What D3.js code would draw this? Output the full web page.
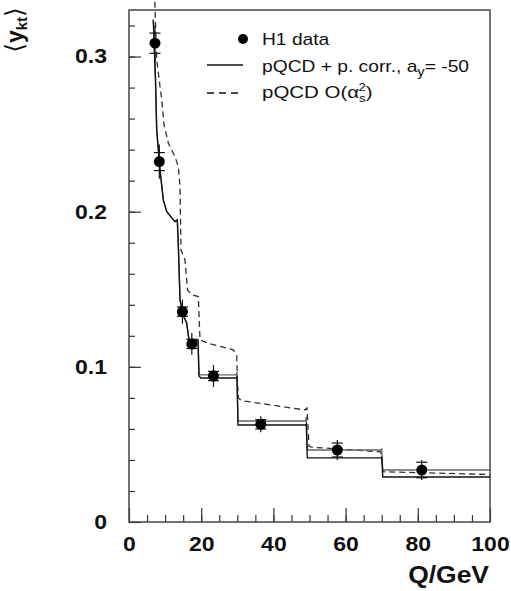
<!DOCTYPE html>
<html>
<head>
<meta charset="utf-8">
<script src="https://cdn.jsdelivr.net/npm/d3@7"></script>
<style>
body { margin: 0; background: #fff; }
text { font-family: "Liberation Sans", Arial, sans-serif; fill: #111; }
</style>
</head>
<body>
<div class="chart-container"></div>
<script>
// H1 data, mean y_kt per Q bin
const dataQ = [7.2, 8.4, 14.8, 17.4, 23.4, 36.5, 57.7, 81.1]
const dataY = [0.3086, 0.2323, 0.1356, 0.1148, 0.0941, 0.0630, 0.0464, 0.0335]
const errTot = [0.0116, 0.0110, 0.0077, 0.0070, 0.0070, 0.0052, 0.0065, 0.0065]
const errStat = [0.0065, 0.0058, 0.0030, 0.0030, 0.0030, 0.0030, 0.0045, 0.0050]

// pQCD + power corrections, lower and upper edge of the band
const corrQ = [6.73, 7.34, 7.67, 8.59, 9.50, 10.44, 11.83, 12.74, 13.38, 13.71, 14.13, 14.96, 15.98, 16.62, 17.17, 19.11,
  19.39, 19.9, 29.64, 29.9, 30.2, 48.9, 49.1, 49.4, 69.8, 70.0, 70.3, 100]
const corrLo = [0.3237, 0.2850, 0.2527, 0.2270, 0.2076, 0.2001, 0.1960, 0.1936, 0.1947, 0.1754, 0.1431, 0.1335, 0.1283, 0.1173, 0.1167, 0.1173,
  0.0941, 0.0928, 0.0928, 0.0935, 0.0625, 0.0625, 0.0632, 0.0413, 0.0413, 0.0418, 0.0290, 0.0290]
const corrHi = [0.3237, 0.2850, 0.2527, 0.2270, 0.2076, 0.2001, 0.1960, 0.1936, 0.1947, 0.1754, 0.1431, 0.1335, 0.1283, 0.1173, 0.1167, 0.1173,
  0.0955, 0.0948, 0.0948, 0.0965, 0.0651, 0.0651, 0.0680, 0.0464, 0.0464, 0.0470, 0.0335, 0.0335]

// pQCD O(alpha_s^2)
const nloQ = [7.15, 7.67, 9.06, 9.70, 10.89, 12.74, 13.66, 14.13, 14.40, 15.51, 16.2, 17.37, 19.2, 19.67, 21.97, 28.89, 29.83,
  30.1, 30.33, 31.22, 48.75, 49.3, 49.86, 50.6, 69.53, 69.9, 70.36, 100]
const nloY = [0.3353, 0.2979, 0.2721, 0.2560, 0.2443, 0.2355, 0.2291, 0.2162, 0.1754, 0.1689, 0.1496, 0.1464, 0.1453, 0.1173, 0.1152, 0.1109, 0.1077,
  0.0872, 0.0799, 0.0782, 0.0722, 0.0735, 0.0490, 0.0482, 0.0453, 0.0438, 0.0324, 0.0306]

const xTicks = [0, 20, 40, 60, 80, 100]
const yTicks = [0, 0.1, 0.2, 0.3]

svg = d3.select(".chart-container").append("svg").attr("width", 511).attr("height", 591)

x = d3.scaleLinear().domain([0, 100]).range([129, 490])
y = d3.scaleLinear().domain([0, 0.33]).range([522, 10])

// old PostScript fonts run wider than Liberation Sans, stretch them a bit
function stretch(sel, k) {
  sel.each(function () {
    const w = this.getComputedTextLength()
    d3.select(this).attr("textLength", w * k).attr("lengthAdjust", "spacingAndGlyphs")
  })
}

// minor ticks first, then the major ones with labels
svg.append("g").attr("transform", "translate(129,0)")
  .call(d3.axisLeft(y).tickValues(d3.range(0.02, 0.33, 0.02)).tickSize(-6).tickFormat(""))
svg.append("g").attr("transform", "translate(0,522)")
  .call(d3.axisBottom(x).tickValues(d3.range(5, 100, 5)).tickSize(-7).tickFormat(""))

yAxis = svg.append("g").attr("transform", "translate(129,0)")
  .call(d3.axisLeft(y).tickValues(yTicks).tickSize(-12).tickPadding(22).tickFormat(d => d === 0 ? "0" : d3.format(".1f")(d)))
xAxis = svg.append("g").attr("transform", "translate(0,522)")
  .call(d3.axisBottom(x).tickValues(xTicks).tickSize(-14).tickPadding(15))

svg.selectAll(".domain").remove()
svg.selectAll(".tick line").attr("stroke", "#333").attr("stroke-width", 1.2)
svg.selectAll(".tick text").style("font-size", "20px").style("font-weight", "bold").attr("fill", "#111")
stretch(svg.selectAll(".tick text"), 1.15)

// frame
svg.append("rect").attr("x", 129).attr("y", 10).attr("width", 361).attr("height", 512)
  .attr("fill", "none").attr("stroke", "#444").attr("stroke-width", 1.5)

// curves
line = d3.line().x(d => x(d[0])).y(d => y(d[1]))

svg.append("path").datum(d3.zip(nloQ, nloY)).attr("d", line)
  .attr("fill", "none").attr("stroke", "#2a332a").attr("stroke-width", 1.3).attr("stroke-dasharray", "6,4")
svg.append("path").datum(d3.zip(corrQ, corrHi)).attr("d", line)
  .attr("fill", "none").attr("stroke", "#666").attr("stroke-width", 1.3)
svg.append("path").datum(d3.zip(corrQ, corrLo)).attr("d", line)
  .attr("fill", "none").attr("stroke", "#111").attr("stroke-width", 1.4)

// data points with error bars
pts = svg.append("g").selectAll("g").data(d3.range(dataQ.length)).enter().append("g")
pts.append("line")
  .attr("x1", i => x(dataQ[i])).attr("x2", i => x(dataQ[i]))
  .attr("y1", i => y(dataY[i] + errTot[i])).attr("y2", i => y(dataY[i] - errTot[i]))
  .attr("stroke", "#111").attr("stroke-width", 1.2)
pts.append("line")
  .attr("x1", i => x(dataQ[i]) - 5.5).attr("x2", i => x(dataQ[i]) + 5.5)
  .attr("y1", i => y(dataY[i] + errStat[i])).attr("y2", i => y(dataY[i] + errStat[i]))
  .attr("stroke", "#111").attr("stroke-width", 1.2)
pts.append("line")
  .attr("x1", i => x(dataQ[i]) - 5.5).attr("x2", i => x(dataQ[i]) + 5.5)
  .attr("y1", i => y(dataY[i] - errStat[i])).attr("y2", i => y(dataY[i] - errStat[i]))
  .attr("stroke", "#111").attr("stroke-width", 1.2)
pts.append("circle")
  .attr("cx", i => x(dataQ[i])).attr("cy", i => y(dataY[i])).attr("r", 5.5).attr("fill", "#000")

// legend
lg = svg.append("g")
lg.append("circle").attr("cx", 243).attr("cy", 39).attr("r", 5).attr("fill", "#000")
lg.append("line").attr("x1", 207).attr("x2", 243).attr("y1", 65).attr("y2", 65).attr("stroke", "#111").attr("stroke-width", 1.3)
lg.append("line").attr("x1", 207).attr("x2", 243).attr("y1", 93).attr("y2", 93).attr("stroke", "#111").attr("stroke-width", 1.3).attr("stroke-dasharray", "7,5")

t1 = lg.append("text").attr("x", 262).attr("y", 45).style("font-size", "17px").text("H1 data")
t2 = lg.append("text").attr("x", 262).attr("y", 71.5).style("font-size", "17px")
t2.append("tspan").text("pQCD + p. corr., a")
t2.append("tspan").attr("dy", 4).style("font-size", "13px").text("y")
t2.append("tspan").attr("dy", -4).text("= -50")
t3 = lg.append("text").attr("x", 262).attr("y", 97.5).style("font-size", "17px")
t3.append("tspan").text("pQCD O(")
t3.append("tspan").text("α")
t3.append("tspan").attr("dy", 4).style("font-size", "11px").text("s")
t3.append("tspan").attr("dx", -6).attr("dy", -11).style("font-size", "11px").text("2")
t3.append("tspan").attr("dy", 7).text(")")
stretch(lg.selectAll("text"), 1.13)

// axis titles
xt = svg.append("text").attr("x", 489).attr("y", 583).attr("text-anchor", "end")
  .style("font-size", "23px").style("font-weight", "bold").text("Q/GeV")
stretch(xt, 1.15)

yt = svg.append("text").attr("transform", "translate(23,30) rotate(-90)").attr("text-anchor", "middle")
  .style("font-size", "23px")
yt.append("tspan").style("font-family", "DejaVu Sans").style("font-weight", "normal").style("font-size", "25px").text("⟨")
yt.append("tspan").style("font-weight", "bold").text("y")
yt.append("tspan").attr("dy", 4).style("font-weight", "bold").style("font-size", "15px").text("kt")
yt.append("tspan").attr("dy", -4).style("font-family", "DejaVu Sans").style("font-weight", "normal").style("font-size", "25px").text("⟩")
</script>
</body>
</html>
